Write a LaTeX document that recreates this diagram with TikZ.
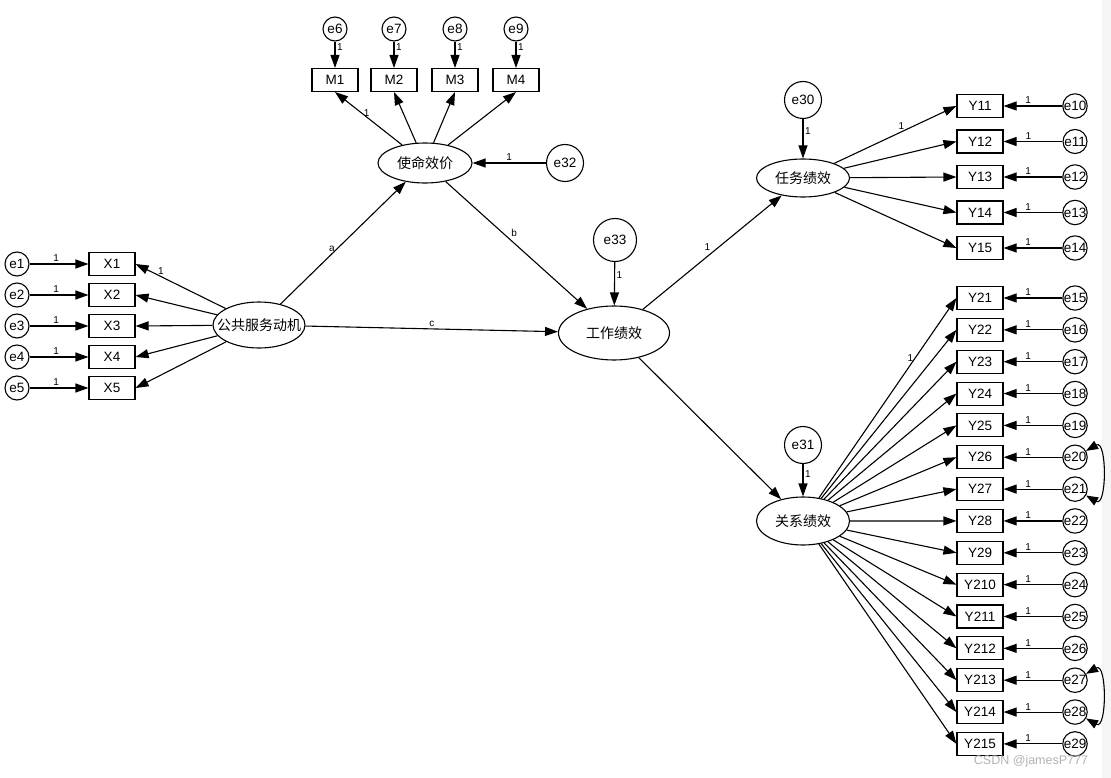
\documentclass[tikz,border=0pt]{standalone}
\usepackage{fontspec}
\setmainfont{Liberation Sans}
\newfontfamily\cjk{Noto Sans CJK SC}
\usetikzlibrary{arrows.meta,positioning,shapes.geometric}

\newcommand{\zw}[1]{\makebox[0pt]{#1}}

\begin{document}
\begin{tikzpicture}[
  x=1pt, y=1pt, line width=1.1pt,
  obs/.style={draw, rectangle, minimum width=46pt, minimum height=23pt, inner sep=0pt, font=\fontsize{13.5}{14}\selectfont},
  lat/.style={draw, ellipse, inner sep=0pt, font=\cjk\fontsize{14}{14}\selectfont},
  err/.style={draw, circle, minimum size=24pt, inner sep=0pt, font=\fontsize{13.5}{14}\selectfont},
  res/.style={err, minimum size=37pt},
  arrow/.style={-{Triangle[length=13pt, width=9pt]}},
  cov/.style={{Triangle[length=12pt, width=9pt]}-{Triangle[length=12pt, width=9pt]}},
  wt/.style={font=\fontsize{10}{10}\selectfont, inner sep=1.5pt},
]
  \useasboundingbox (0,0) rectangle (1111,-778);
  \fill[gray!8] (1102,0) rectangle (1111,-778);

  \node[lat, minimum width=92pt, minimum height=46pt] (psm) at (259,-325) {\zw{公共服务动机}};
  \node[lat, minimum width=94pt, minimum height=40pt] (mv) at (425,-163) {\zw{使命效价}};
  \node[lat, minimum width=111pt, minimum height=54pt] (jp) at (614,-333) {\zw{工作绩效}};
  \node[lat, minimum width=93pt, minimum height=38pt] (tp) at (803,-178) {\zw{任务绩效}};
  \node[lat, minimum width=93pt, minimum height=48pt] (cp) at (803,-521) {\zw{关系绩效}};

  \node[res] (e32) at (565,-163) {e32};
  \node[res, minimum size=43pt] (e33) at (615,-240) {e33};
  \node[res] (e30) at (803,-100) {e30};
  \node[res] (e31) at (803,-445) {e31};

  \draw[arrow] (psm) -- node[wt, left, pos=0.45] {a} (mv);
  \draw[arrow] (mv) -- node[wt, above right, pos=0.45] {b} (jp);
  \draw[arrow] (psm) -- node[wt, above, pos=0.5] {c} (jp);
  \draw[arrow] (jp) -- node[wt, above left, pos=0.5] {1} (tp);
  \draw[arrow] (jp) -- (cp);
  \draw[arrow] (e32) -- node[wt, above] {1} (mv);
  \draw[arrow] (e33) -- node[wt, right, pos=0.3] {1} (jp);
  \draw[arrow] (e30) -- node[wt, right, pos=0.3] {1} (tp);
  \draw[arrow] (e31) -- node[wt, right, pos=0.3] {1} (cp);

  \foreach \i in {1,...,5} {
    \node[obs] (x\i) at (112,{-264-31*(\i-1)}) {X\i};
    \node[err] (e\i) at (17,{-264-31*(\i-1)}) {e\i};
    \draw[arrow] (e\i) -- node[wt, above, pos=0.45] {1} (x\i);
  }
  \draw[arrow] (psm) -- node[wt, above, pos=0.72] {1} (x1.east);
  \foreach \i in {2,...,5}
    \draw[arrow] (psm) -- (x\i.east);

  \foreach \i/\j/\x in {1/6/335, 2/7/394, 3/8/455, 4/9/516} {
    \node[obs] (m\i) at (\x,-80) {M\i};
    \node[err] (e\j) at (\x,-29) {e\j};
    \draw[arrow] (e\j) -- node[wt, right, pos=0.2] {1} (m\i);
  }
  \draw[arrow] (mv) -- node[wt, right, pos=0.6] {1} (m1.south);
  \foreach \i in {2,...,4}
    \draw[arrow] (mv) -- (m\i.south);

  \foreach \i [count=\j from 10] in {1,...,5} {
    \node[obs] (y1\i) at (980,{-106-35.5*(\i-1)}) {Y1\i};
    \node[err] (e\j) at (1075,{-106-35.5*(\i-1)}) {e\j};
    \draw[arrow] (e\j) -- node[wt, above, pos=0.58] {1} (y1\i);
  }
  \draw[arrow] (tp) -- node[wt, above, pos=0.55] {1} (y11.west);
  \foreach \i in {2,...,5}
    \draw[arrow] (tp) -- (y1\i.west);

  \foreach \i [count=\j from 15] in {1,...,15} {
    \node[obs] (y2\i) at (980,{-298-31.85*(\i-1)}) {Y2\i};
    \node[err] (e\j) at (1075,{-298-31.85*(\i-1)}) {e\j};
    \draw[arrow] (e\j) -- node[wt, above, pos=0.58] {1} (y2\i);
  }
  \draw[arrow] (cp) -- node[wt, left, pos=0.7] {1} (y21.west);
  \foreach \i in {2,...,15}
    \draw[arrow] (cp) -- (y2\i.west);

  \draw[cov] (e20) to[out=30, in=-30, looseness=1.4] (e21);
  \draw[cov] (e27) to[out=30, in=-30, looseness=1.4] (e28);

  \node[text=gray!60, font=\fontsize{12.5}{13}\selectfont] (mark) at (1031,-761) {CSDN @jamesP777};
\end{tikzpicture}
\end{document}
